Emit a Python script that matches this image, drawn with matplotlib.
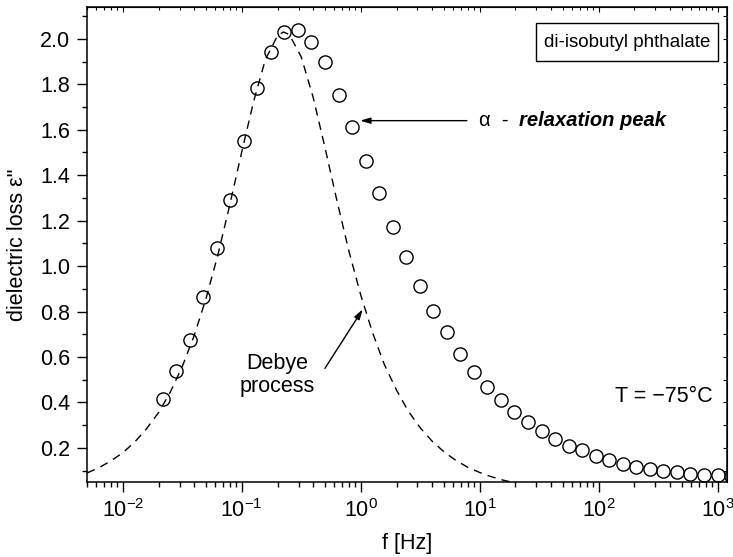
import matplotlib
matplotlib.use("Agg")
import matplotlib.pyplot as plt
from matplotlib.patches import Rectangle
from matplotlib.ticker import LogLocator, MultipleLocator, NullFormatter

# measured points (alpha relaxation of di-isobutyl phthalate, T = -75 C)
freq = [0.0216, 0.0281, 0.0365, 0.0473, 0.0615, 0.080, 0.104, 0.135, 0.175, 0.228,
        0.296, 0.385, 0.501, 0.651, 0.846, 1.10, 1.43, 1.86, 2.41, 3.13,
        4.07, 5.30, 6.88, 8.94, 11.6, 15.1, 19.6, 25.5, 33.1, 43.1,
        56.0, 72.8, 94.6, 123, 160, 207, 270, 351, 455, 592,
        769, 1000, 1300]
eps_loss = [0.417, 0.537, 0.676, 0.862, 1.078, 1.292, 1.551, 1.783, 1.942, 2.028,
            2.038, 1.987, 1.898, 1.754, 1.614, 1.462, 1.321, 1.172, 1.038, 0.914,
            0.804, 0.712, 0.615, 0.536, 0.470, 0.411, 0.358, 0.313, 0.273, 0.240,
            0.210, 0.190, 0.163, 0.146, 0.131, 0.117, 0.108, 0.100, 0.093, 0.087,
            0.083, 0.080, 0.077]

# dashed Debye curve
debye_freq = [0.00501, 0.00631, 0.00794, 0.01, 0.0126, 0.0158, 0.02, 0.0251, 0.0316, 0.0398,
              0.0501, 0.0631, 0.0794, 0.1, 0.126, 0.158, 0.2, 0.224, 0.251, 0.316,
              0.398, 0.501, 0.631, 0.794, 1.0, 1.26, 1.58, 2.0, 2.51, 3.16,
              3.98, 5.01, 6.31, 7.94, 10, 12.6, 15.8, 20, 25.1]
debye_loss = [0.090, 0.113, 0.143, 0.179, 0.226, 0.284, 0.356, 0.446, 0.558, 0.694,
              0.858, 1.051, 1.271, 1.503, 1.726, 1.909, 2.014, 2.03, 2.019, 1.921,
              1.743, 1.521, 1.288, 1.068, 0.873, 0.706, 0.567, 0.454, 0.362, 0.289,
              0.230, 0.183, 0.145, 0.115, 0.092, 0.073, 0.058, 0.046, 0.037]

plt.rcParams["font.family"] = ["Liberation Sans", "DejaVu Sans"]
plt.rcParams["mathtext.fontset"] = "custom"
plt.rcParams["mathtext.rm"] = "Liberation Sans"
plt.rcParams["mathtext.it"] = "Liberation Sans:italic"

fig = plt.figure(figsize=(7.33, 5.57), dpi=100)
ax = fig.add_axes([0.1187, 0.1346, 0.8731, 0.8528])

ax.plot(debye_freq, debye_loss, color="black", lw=1.0, dashes=(6, 4.5))
ax.plot(freq, eps_loss, "o", ms=9.5, mfc="none", mec="black", mew=1.0)

ax.set_xscale("log")
ax.set_xlim(0.005, 1200)
ax.set_ylim(0.05, 2.14)

ax.xaxis.set_major_locator(LogLocator(base=10, numticks=10))
ax.xaxis.set_minor_locator(LogLocator(base=10, subs=range(2, 10), numticks=20))
ax.xaxis.set_minor_formatter(NullFormatter())
ax.yaxis.set_major_locator(MultipleLocator(0.2))
ax.yaxis.set_minor_locator(MultipleLocator(0.1))
ax.yaxis.set_major_formatter(lambda v, p: "%.1f" % v)

ax.tick_params(which="major", direction="out", length=7, width=1.0, labelsize=15.5, pad=5)
ax.tick_params(which="minor", direction="out", length=3.6, width=1.0)
for sp in ax.spines.values():
    sp.set_linewidth(1.1)

top = ax.secondary_xaxis("top")
top.tick_params(which="major", direction="in", length=3.5, width=0.8, labeltop=False)
top.tick_params(which="minor", direction="in", length=2.2, width=0.8)
top.xaxis.set_minor_formatter(NullFormatter())

right = ax.secondary_yaxis("right")
right.yaxis.set_major_locator(MultipleLocator(0.1))
right.tick_params(which="major", direction="in", length=3, width=0.8, labelright=False)
right.tick_params(which="minor", length=0)

ax.set_xlabel("f [Hz]", fontsize=15.5, labelpad=8)
ax.set_ylabel('dielectric loss ε"', fontsize=15.5)
ax.yaxis.set_label_coords(-0.0925, 0.5)

# sample name box
ax.add_patch(Rectangle((0.7016, 0.8863), 0.284, 0.08, transform=ax.transAxes,
                       fill=False, edgecolor="black", lw=1.0))
ax.text(0.8438, 0.926, "di-isobutyl phthalate", transform=ax.transAxes,
        ha="center", va="center", fontsize=13.5)

# alpha peak label
ax.annotate("", xy=(0.99, 1.64), xytext=(7.8, 1.64),
            arrowprops=dict(arrowstyle="-|>,head_length=0.6,head_width=0.18",
                            color="black", lw=1.0, shrinkA=0, shrinkB=0))
ax.text(9.9, 1.64, "α  -", ha="left", va="center", fontsize=14.5)
ax.text(21.5, 1.64, "relaxation peak", ha="left", va="center", fontsize=14.5,
        fontweight="bold", fontstyle="italic")

# Debye label
ax.annotate("", xy=(1.04, 0.81), xytext=(0.50, 0.55),
            arrowprops=dict(arrowstyle="-|>,head_length=0.6,head_width=0.18",
                            color="black", lw=1.0, shrinkA=0, shrinkB=0))
ax.text(0.20, 0.52, "Debye\nprocess", ha="center", va="center", fontsize=15.5,
        linespacing=1.1)

ax.text(0.977, 0.181, "T = −75°C", transform=ax.transAxes, ha="right", va="center",
        fontsize=15.5)

fig.savefig("out.png", dpi=100)
